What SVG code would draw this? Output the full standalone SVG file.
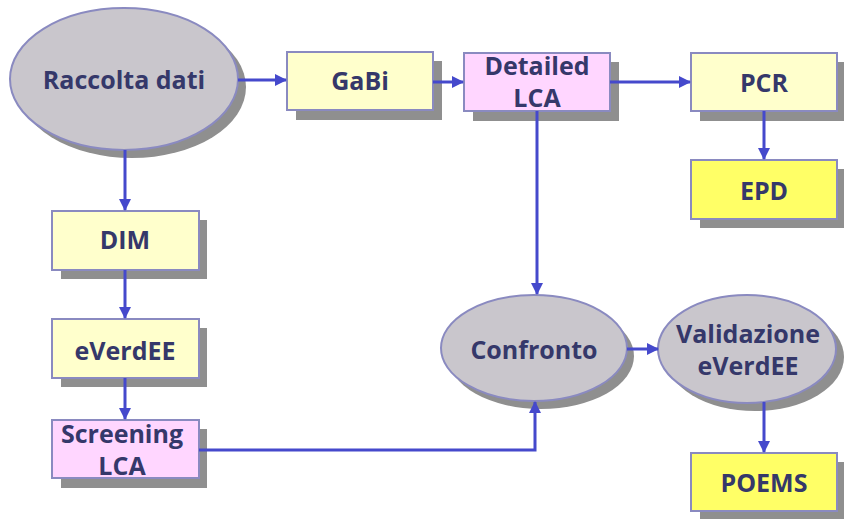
<svg xmlns="http://www.w3.org/2000/svg" width="844" height="519" viewBox="0 0 844 519">
  <defs>
    <style>
      .shadow { fill: #8f8f8f; }
      .box { stroke: #8a8ac0; stroke-width: 2; }
      .pale { fill: #ffffcc; }
      .pink { fill: #ffd6ff; }
      .bright { fill: #ffff66; }
      .oval { fill: #c9c6cc; stroke: #8a8ac0; stroke-width: 2; }
      .label { font-family: "Open Sans", Lato, sans-serif; font-weight: bold; font-size: 25px; fill: #35386a; text-anchor: middle; }
      .wire { fill: none; stroke: #4549cc; stroke-width: 3; }
    </style>
    <marker id="arrow" viewBox="0 0 12 12" refX="11" refY="6" markerWidth="12" markerHeight="12" markerUnits="userSpaceOnUse" orient="auto">
      <path d="M0,0 L12,6 L0,12 Z" fill="#4549cc"/>
    </marker>
  </defs>

  <g id="raccolta">
    <ellipse class="shadow" cx="132" cy="87" rx="114" ry="71"/>
    <ellipse class="oval" cx="124" cy="79" rx="114" ry="71"/>
    <text class="label" x="124" y="89">Raccolta dati</text>
  </g>

  <g id="gabi">
    <rect class="shadow" x="296" y="61" width="146" height="59"/>
    <rect class="box pale" x="287" y="52" width="146" height="58"/>
    <text class="label" x="360" y="90">GaBi</text>
  </g>

  <g id="detailed-lca">
    <rect class="shadow" x="473" y="62" width="146" height="59"/>
    <rect class="box pink" x="464" y="53" width="146" height="58"/>
    <text class="label" x="537" y="75">Detailed</text>
    <text class="label" x="537" y="107">LCA</text>
  </g>

  <g id="pcr">
    <rect class="shadow" x="700" y="62" width="146" height="59"/>
    <rect class="box pale" x="691" y="53" width="146" height="58"/>
    <text class="label" x="764" y="92">PCR</text>
  </g>

  <g id="epd">
    <rect class="shadow" x="700" y="169" width="146" height="59"/>
    <rect class="box bright" x="691" y="160" width="146" height="59"/>
    <text class="label" x="764" y="200">EPD</text>
  </g>

  <g id="dim">
    <rect class="shadow" x="61" y="220" width="146" height="59"/>
    <rect class="box pale" x="52" y="211" width="147" height="59"/>
    <text class="label" x="125" y="249">DIM</text>
  </g>

  <g id="everdee">
    <rect class="shadow" x="61" y="328" width="146" height="59"/>
    <rect class="box pale" x="52" y="319" width="147" height="59"/>
    <text class="label" x="125" y="360">eVerdEE</text>
  </g>

  <g id="screening-lca">
    <rect class="shadow" x="61" y="429" width="146" height="59"/>
    <rect class="box pink" x="52" y="420" width="147" height="58"/>
    <text class="label" x="122" y="443">Screening</text>
    <text class="label" x="122" y="475">LCA</text>
  </g>

  <g id="confronto">
    <ellipse class="shadow" cx="541" cy="356" rx="93" ry="53"/>
    <ellipse class="oval" cx="534" cy="348" rx="93" ry="53"/>
    <text class="label" x="534" y="359">Confronto</text>
  </g>

  <g id="validazione">
    <ellipse class="shadow" cx="755" cy="357" rx="89" ry="54"/>
    <ellipse class="oval" cx="747" cy="349" rx="89" ry="54"/>
    <text class="label" x="748" y="343">Validazione</text>
    <text class="label" x="748" y="375">eVerdEE</text>
  </g>

  <g id="poems">
    <rect class="shadow" x="700" y="462" width="146" height="59"/>
    <rect class="box bright" x="691" y="453" width="146" height="58"/>
    <text class="label" x="764" y="492">POEMS</text>
  </g>

  <g id="connectors">
    <path class="wire" d="M238,80 H286" marker-end="url(#arrow)"/>
    <path class="wire" d="M433,82 H463" marker-end="url(#arrow)"/>
    <path class="wire" d="M610,82 H690" marker-end="url(#arrow)"/>
    <path class="wire" d="M764,111 V159" marker-end="url(#arrow)"/>
    <path class="wire" d="M125,150 V210" marker-end="url(#arrow)"/>
    <path class="wire" d="M125,270 V318" marker-end="url(#arrow)"/>
    <path class="wire" d="M125,378 V419" marker-end="url(#arrow)"/>
    <path class="wire" d="M537,111 V294" marker-end="url(#arrow)"/>
    <path class="wire" d="M199,450 H535 V402" marker-end="url(#arrow)"/>
    <path class="wire" d="M627,349 H658" marker-end="url(#arrow)"/>
    <path class="wire" d="M764,402 V452" marker-end="url(#arrow)"/>
  </g>
</svg>
